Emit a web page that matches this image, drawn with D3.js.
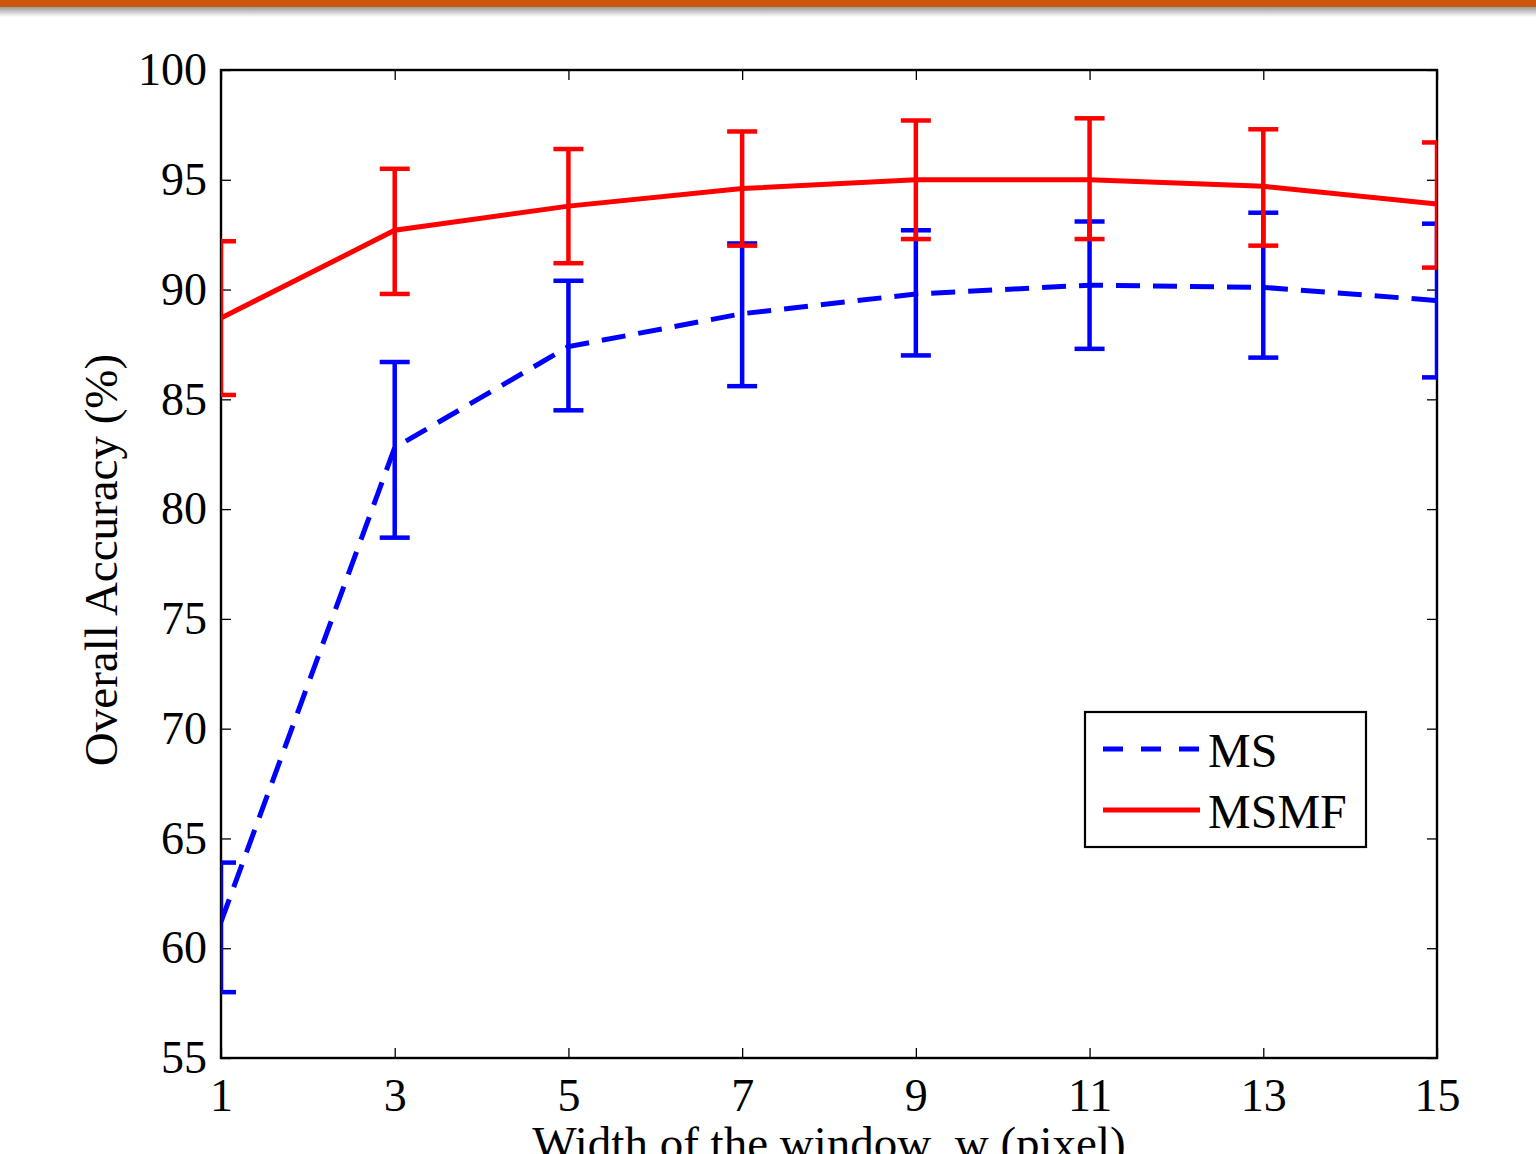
<!DOCTYPE html>
<html>
<head>
<meta charset="utf-8">
<script src="https://cdn.jsdelivr.net/npm/d3@7"></script>
<style>
  body { margin: 0; background: #fff; }
  svg { display: block; }
  text { font-family: "Liberation Serif", "Times New Roman", serif; fill: #000; }
</style>
</head>
<body>
<script>
// window widths (x axis)
var windowSizes = [1, 3, 5, 7, 9, 11, 13, 15];

// MS series: mean and error-bar bounds
var msMean = [61.2, 82.8, 87.4, 88.9, 89.8, 90.2, 90.1, 89.5];
var msLow  = [58.0, 78.7, 84.5, 85.6, 87.0, 87.3, 86.9, 86.0];
var msHigh = [63.9, 86.7, 90.4, 92.1, 92.7, 93.1, 93.5, 93.0];

// MSMF series
var msmfMean = [88.7, 92.7, 93.8, 94.6, 95.0, 95.0, 94.7, 93.9];
var msmfLow  = [85.2, 89.8, 91.2, 92.0, 92.3, 92.3, 92.0, 91.0];
var msmfHigh = [92.2, 95.5, 96.4, 97.2, 97.7, 97.8, 97.3, 96.7];

var yTicks = [55, 60, 65, 70, 75, 80, 85, 90, 95, 100];
var xTicks = [1, 3, 5, 7, 9, 11, 13, 15];

var seriesNames = ["MS", "MSMF"];

var W = 1536, H = 1154;
var margin = {left: 221, right: 99, top: 70, bottom: 96};
var pw = W - margin.left - margin.right,
    ph = H - margin.top - margin.bottom;

var svg = d3.select("body").append("svg")
    .attr("width", W)
    .attr("height", H);

// orange header bar with a soft shadow underneath
var defs = svg.append("defs");
var grad = defs.append("linearGradient")
    .attr("id", "shadow").attr("x1", 0).attr("y1", 0).attr("x2", 0).attr("y2", 1);
grad.append("stop").attr("offset", "0%").attr("stop-color", "#9a9a9a");
grad.append("stop").attr("offset", "100%").attr("stop-color", "#ffffff");
svg.append("rect").attr("x", 0).attr("y", 7).attr("width", W).attr("height", 10)
    .attr("fill", "url(#shadow)");
svg.append("rect").attr("x", 0).attr("y", 0).attr("width", W).attr("height", 7)
    .attr("fill", "#c9570c");

defs.append("clipPath").attr("id", "plotclip")
  .append("rect").attr("x", 0).attr("y", 0).attr("width", pw).attr("height", ph);

var g = svg.append("g").attr("transform", "translate(" + margin.left + "," + margin.top + ")");

var x = d3.scaleLinear().domain([1, 15]).range([0, pw]);
var y = d3.scaleLinear().domain([55, 100]).range([ph, 0]);

var fontSize = 46, tickLen = 10;

// axes: inward ticks on all four sides
g.append("g").attr("class", "axis")
    .attr("transform", "translate(0," + ph + ")")
    .call(d3.axisBottom(x).tickValues(xTicks).tickSizeInner(-tickLen).tickSizeOuter(0).tickPadding(20));
g.append("g").attr("class", "axis")
    .call(d3.axisTop(x).tickValues(xTicks).tickSizeInner(-tickLen).tickSizeOuter(0).tickFormat(""));
g.append("g").attr("class", "axis")
    .call(d3.axisLeft(y).tickValues(yTicks).tickSizeInner(-tickLen).tickSizeOuter(0).tickPadding(14));
g.append("g").attr("class", "axis")
    .attr("transform", "translate(" + pw + ",0)")
    .call(d3.axisRight(y).tickValues(yTicks).tickSizeInner(-tickLen).tickSizeOuter(0).tickFormat(""));

g.selectAll(".axis path").remove();
g.selectAll(".axis line").attr("stroke", "#000").attr("stroke-width", 1.3);
g.selectAll(".axis text")
    .style("font-family", "'Liberation Serif', serif")
    .style("font-size", fontSize + "px")
    .attr("fill", "#000");

// frame
g.append("rect")
    .attr("x", 0).attr("y", 0).attr("width", pw).attr("height", ph)
    .attr("fill", "none").attr("stroke", "#000").attr("stroke-width", 2.4);

// data series
var series = [
  {name: seriesNames[0], mean: msMean, low: msLow, high: msHigh, color: "#0000ff", dash: "24,13"},
  {name: seriesNames[1], mean: msmfMean, low: msmfLow, high: msmfHigh, color: "#ff0000", dash: null}
];

var plot = g.append("g").attr("clip-path", "url(#plotclip)");
var line = d3.line().x(function(d){ return x(d.w); }).y(function(d){ return y(d.v); });
var capW = 15;

series.forEach(function(s){
  var pts = windowSizes.map(function(w, i){
    return {w: w, v: s.mean[i], lo: s.low[i], hi: s.high[i]};
  });

  plot.append("path")
      .datum(pts)
      .attr("d", line)
      .attr("fill", "none")
      .attr("stroke", s.color)
      .attr("stroke-width", 5)
      .attr("stroke-dasharray", s.dash);

  var eb = plot.selectAll(null).data(pts).enter().append("g")
      .attr("stroke", s.color).attr("stroke-width", 4.5);
  eb.append("line")
      .attr("x1", function(d){ return x(d.w); }).attr("x2", function(d){ return x(d.w); })
      .attr("y1", function(d){ return y(d.lo); }).attr("y2", function(d){ return y(d.hi); });
  eb.append("line")
      .attr("x1", function(d){ return x(d.w) - capW; }).attr("x2", function(d){ return x(d.w) + capW; })
      .attr("y1", function(d){ return y(d.lo); }).attr("y2", function(d){ return y(d.lo); });
  eb.append("line")
      .attr("x1", function(d){ return x(d.w) - capW; }).attr("x2", function(d){ return x(d.w) + capW; })
      .attr("y1", function(d){ return y(d.hi); }).attr("y2", function(d){ return y(d.hi); });
});

// axis titles (the reference has a double space before "w")
g.append("text")
    .attr("x", x(8))
    .attr("y", ph + 101)
    .attr("text-anchor", "middle")
    .style("font-size", "47px")
    .style("white-space", "pre")
    .text("Width of the window  w (pixel)");

g.append("text")
    .attr("transform", "translate(" + (117 - margin.left) + "," + (560 - margin.top) + ") rotate(-90)")
    .attr("text-anchor", "middle")
    .style("font-size", "47px")
    .text("Overall Accuracy (%)");

// legend
var legend = svg.append("g").attr("transform", "translate(1085,712)");
legend.append("rect")
    .attr("width", 281).attr("height", 135)
    .attr("fill", "#fff").attr("stroke", "#000").attr("stroke-width", 2.2);

series.forEach(function(s, i){
  var ly = 37 + i * 61;
  legend.append("line")
      .attr("x1", 18).attr("x2", 115).attr("y1", ly).attr("y2", ly)
      .attr("stroke", s.color).attr("stroke-width", 5)
      .attr("stroke-dasharray", s.dash ? "20,18" : null);
  legend.append("text")
      .attr("x", 123).attr("y", ly + 18)
      .style("font-size", "48px")
      .text(s.name);
});
</script>
</body>
</html>
